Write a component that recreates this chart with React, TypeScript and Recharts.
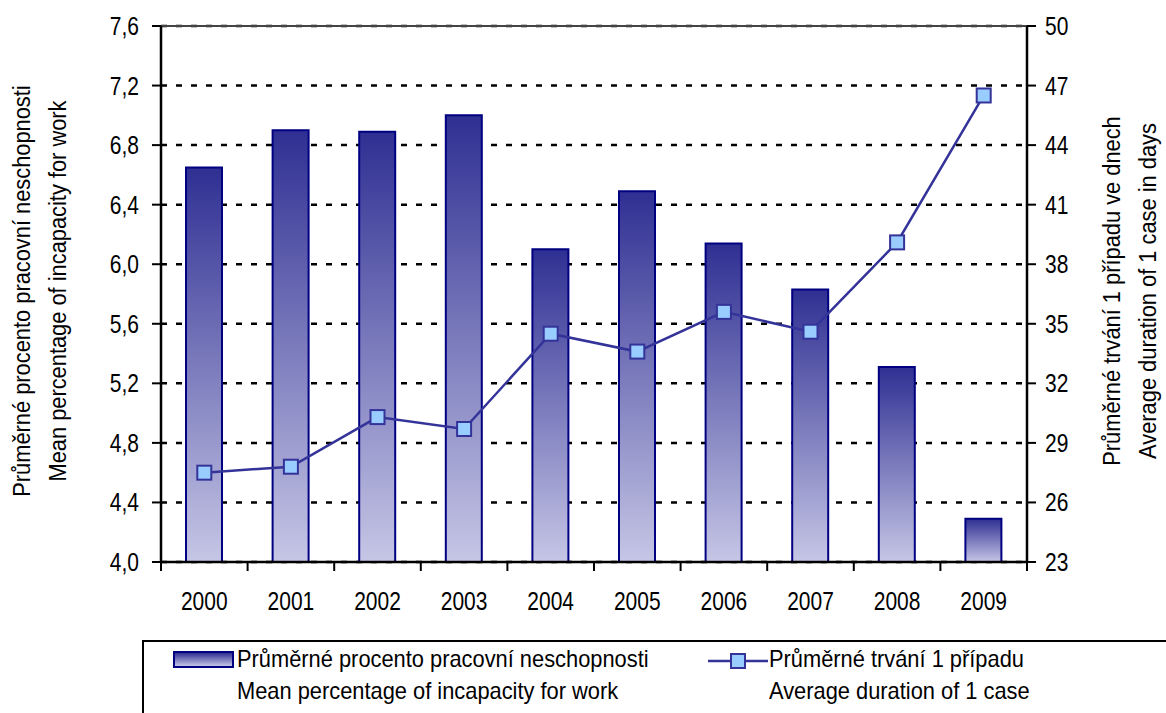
import { ComposedChart, Bar, Line, XAxis, YAxis, CartesianGrid, ReferenceLine } from 'recharts';

const YEARS = ['2000', '2001', '2002', '2003', '2004', '2005', '2006', '2007', '2008', '2009'];
const MEAN_PERCENT = [6.65, 6.9, 6.89, 7.0, 6.1, 6.49, 6.14, 5.83, 5.31, 4.29];
const AVG_DURATION = [27.5, 27.8, 30.3, 29.7, 34.5, 33.6, 35.6, 34.6, 39.1, 46.5];
const LEFT_TICKS = [4.0, 4.4, 4.8, 5.2, 5.6, 6.0, 6.4, 6.8, 7.2, 7.6];
const RIGHT_TICKS = [23, 26, 29, 32, 35, 38, 41, 44, 47, 50];

const BAR_LABEL = ['Průměrné procento pracovní neschopnosti', 'Mean percentage of incapacity for work'];
const LINE_LABEL = ['Průměrné trvání 1 případu', 'Average duration of 1 case'];
const LEFT_TITLE = ['Průměrné procento pracovní neschopnosti', 'Mean percentage of incapacity for work'];
const RIGHT_TITLE = ['Průměrné trvání 1 případu ve dnech', 'Average duration of 1 case in days'];

const data = YEARS.map((year, i) => ({ year, percent: MEAN_PERCENT[i], duration: AVG_DURATION[i] }));

// no Arial Narrow here, so squeeze Liberation Sans horizontally
const FONT = "'Liberation Sans', Arial, sans-serif";
const TICK_NARROW = 0.84;
const TEXT_NARROW = 0.91;
const W = 1166;
const H = 713;
const PLOT_LEFT = 161;
const PLOT_RIGHT = 1027;
const HALF_BAND = (PLOT_RIGHT - PLOT_LEFT) / YEARS.length / 2;
const TICK_SIZE = 9;
const X_TICK_MARGIN = 21;

const NarrowText = ({ x, y, anchor, dy, children }: any) => (
  <text
    transform={`translate(${x}, ${y}) scale(${TICK_NARROW}, 1)`}
    dy={dy}
    textAnchor={anchor}
    fontSize={25}
    fontFamily={FONT}
    fill="#000"
  >
    {children}
  </text>
);

const XTick = (props: any) => {
  const { x, y, payload, index } = props;
  const axisY = y - TICK_SIZE - X_TICK_MARGIN;
  return (
    <g>
      <line x1={x - HALF_BAND} x2={x - HALF_BAND} y1={axisY} y2={axisY + TICK_SIZE} stroke="#000" strokeWidth={2} />
      {index === YEARS.length - 1 && (
        <line x1={x + HALF_BAND} x2={x + HALF_BAND} y1={axisY} y2={axisY + TICK_SIZE} stroke="#000" strokeWidth={2} />
      )}
      <NarrowText x={x} y={y} dy="0.71em" anchor="middle">
        {payload.value}
      </NarrowText>
    </g>
  );
};

const LeftTick = (props: any) => (
  <NarrowText x={props.x} y={props.y} dy="0.36em" anchor="end">
    {Number(props.payload.value).toFixed(1).replace('.', ',')}
  </NarrowText>
);

const RightTick = (props: any) => (
  <NarrowText x={props.x} y={props.y} dy="0.36em" anchor="start">
    {props.payload.value}
  </NarrowText>
);

const SquareDot = (props: any) => {
  const { cx, cy, index } = props;
  if (cx == null || cy == null) return null;
  return <rect key={`dot-${index}`} x={cx - 7} y={cy - 7} width={14} height={14} fill="#99ccff" stroke="#333399" strokeWidth={2} />;
};

const AxisTitle = ({ lines, baselines }: { lines: string[]; baselines: number[] }) => (
  <text transform={`translate(0, 291) rotate(-90) scale(${TEXT_NARROW}, 1)`} textAnchor="middle" fontSize={24} fontFamily={FONT} fill="#000">
    {lines.map((l, i) => (
      <tspan key={i} x={0} y={baselines[i]}>
        {l}
      </tspan>
    ))}
  </text>
);

const LegendText = ({ lines }: { lines: string[] }) => (
  <div style={{ transform: `scaleX(${TEXT_NARROW})`, transformOrigin: 'left top', lineHeight: '32px', whiteSpace: 'nowrap' }}>
    <div>{lines[0]}</div>
    <div>{lines[1]}</div>
  </div>
);

export default function App() {
  return (
    <div style={{ position: 'absolute', left: 0, top: 0, width: W, height: H, background: '#fff', fontFamily: FONT }}>
      <ComposedChart width={W} height={H} data={data} margin={{ top: 26, right: 0, bottom: 101, left: 0 }}>
        <defs>
          <linearGradient id="barGrad" x1="0" y1="0" x2="0" y2="1">
            <stop offset="0%" stopColor="#2f2f93" />
            <stop offset="100%" stopColor="#c6c6e6" />
          </linearGradient>
        </defs>
        <CartesianGrid yAxisId="left" horizontal vertical={false} stroke="#000" strokeWidth={2.5} strokeDasharray="6 9" />
        <XAxis
          dataKey="year"
          height={50}
          tickLine={false}
          tickSize={TICK_SIZE}
          tickMargin={X_TICK_MARGIN}
          tick={<XTick />}
          axisLine={{ stroke: '#000', strokeWidth: 2.5 }}
          interval={0}
        />
        <YAxis
          yAxisId="left"
          width={PLOT_LEFT}
          domain={[4, 7.6]}
          ticks={LEFT_TICKS}
          tick={<LeftTick />}
          tickSize={TICK_SIZE}
          tickMargin={13}
          tickLine={{ stroke: '#000', strokeWidth: 2 }}
          axisLine={{ stroke: '#000', strokeWidth: 2.5 }}
          label={{ content: () => <AxisTitle lines={LEFT_TITLE} baselines={[30, 66]} /> }}
        />
        <YAxis
          yAxisId="right"
          orientation="right"
          width={W - PLOT_RIGHT}
          domain={[23, 50]}
          ticks={RIGHT_TICKS}
          tick={<RightTick />}
          tickSize={TICK_SIZE}
          tickMargin={9}
          tickLine={{ stroke: '#000', strokeWidth: 2 }}
          axisLine={{ stroke: '#000', strokeWidth: 2.5 }}
          label={{ content: () => <AxisTitle lines={RIGHT_TITLE} baselines={[1120, 1156]} /> }}
        />
        <ReferenceLine yAxisId="left" y={7.6} stroke="#444" strokeWidth={2} />
        <Bar
          yAxisId="left"
          dataKey="percent"
          barSize={36}
          fill="url(#barGrad)"
          stroke="#000080"
          strokeWidth={2}
          isAnimationActive={false}
        />
        <Line
          yAxisId="right"
          dataKey="duration"
          stroke="#333399"
          strokeWidth={2.5}
          dot={<SquareDot />}
          activeDot={false}
          isAnimationActive={false}
        />
      </ComposedChart>
      <div
        style={{
          position: 'absolute',
          left: 142,
          top: 640,
          width: 1100,
          height: 100,
          border: '2px solid #000',
          boxSizing: 'border-box',
          fontSize: 24,
          color: '#000',
        }}
      >
        <div
          style={{
            position: 'absolute',
            left: 29,
            top: 9,
            width: 57,
            height: 13,
            border: '2px solid #000080',
            background: 'linear-gradient(#2f2f93, #c6c6e6)',
          }}
        />
        <div style={{ position: 'absolute', left: 93, top: 1 }}>
          <LegendText lines={BAR_LABEL} />
        </div>
        <svg style={{ position: 'absolute', left: 562, top: 7 }} width={64} height={24}>
          <line x1={2} x2={62} y1={12} y2={12} stroke="#333399" strokeWidth={2.5} />
          <rect x={25} y={5} width={14} height={14} fill="#99ccff" stroke="#333399" strokeWidth={2} />
        </svg>
        <div style={{ position: 'absolute', left: 625, top: 1 }}>
          <LegendText lines={LINE_LABEL} />
        </div>
      </div>
    </div>
  );
}
